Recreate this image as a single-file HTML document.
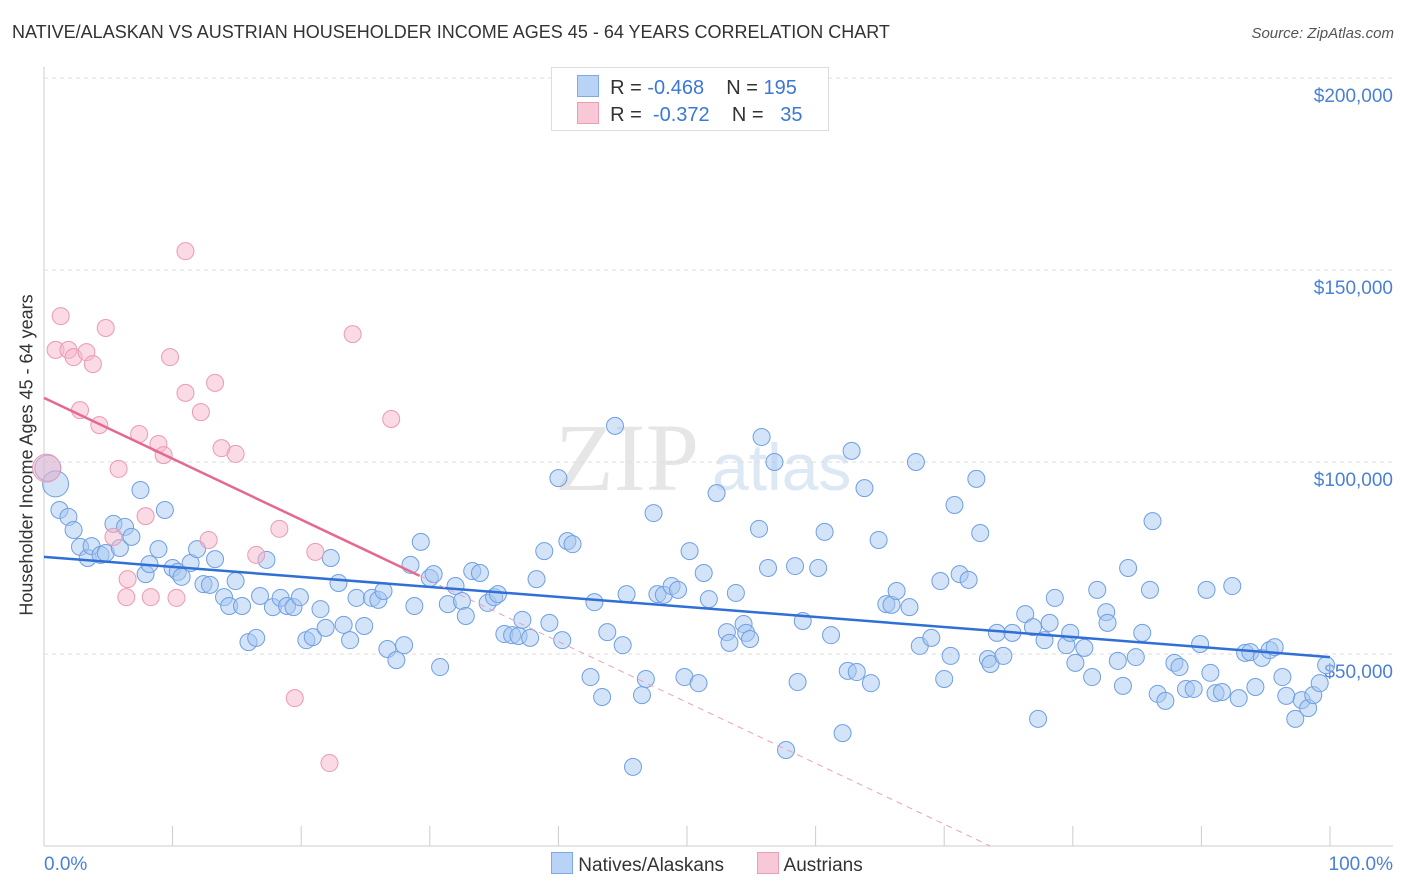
<!DOCTYPE html>
<html><head><meta charset="utf-8"><style>
body{margin:0;background:#fff;font-family:"Liberation Sans",sans-serif;}
#wrap{position:relative;width:1406px;height:892px;overflow:hidden;}
.t{position:absolute;white-space:nowrap;}
</style></head><body>
<div id="wrap">
<div class="t" style="left:12px;top:22px;font-size:18px;color:#333;">NATIVE/ALASKAN VS AUSTRIAN HOUSEHOLDER INCOME AGES 45 - 64 YEARS CORRELATION CHART</div>
<div class="t" style="right:12px;top:25px;font-size:15px;color:#555;font-style:italic;">Source: ZipAtlas.com</div>
<div class="t" style="left:27px;top:455px;font-size:18px;color:#333;transform:translate(-50%,-50%) rotate(-90deg);">Householder Income Ages 45 - 64 years</div>
<svg id="plot" width="1406" height="892" style="position:absolute;left:0;top:0"></svg>
<div style="position:absolute;left:551px;top:67px;width:276px;height:62px;border:1px solid #ddd;background:#fff;font-size:20px;color:#333;">
 <div style="position:absolute;left:25px;top:7px;"><span style="display:inline-block;width:20px;height:20px;background:#b8d3f5;border:1px solid #7fa9e6;vertical-align:-3px;"></span>&nbsp; R = <span style="color:#3a78d8">-0.468</span>&nbsp;&nbsp;&nbsp; N = <span style="color:#3a78d8">195</span></div>
 <div style="position:absolute;left:25px;top:34px;"><span style="display:inline-block;width:20px;height:20px;background:#f8c8d6;border:1px solid #eb9db5;vertical-align:-3px;"></span>&nbsp; R = &nbsp;<span style="color:#3a78d8">-0.372</span>&nbsp;&nbsp;&nbsp; N = &nbsp;&nbsp;<span style="color:#3a78d8">35</span></div>
</div>
<div style="position:absolute;left:551px;top:852px;font-size:19px;color:#333;">
 <span><span style="display:inline-block;width:20px;height:20px;background:#b8d3f5;border:1px solid #7fa9e6;vertical-align:-3px;"></span> Natives/Alaskans</span>
 <span style="margin-left:28px;"><span style="display:inline-block;width:20px;height:20px;background:#f8c8d6;border:1px solid #eb9db5;vertical-align:-3px;"></span> Austrians</span>
</div>
</div>
<script>
const yTicks=[50,100,150,200];
const yTickLabels=["$50,000","$100,000","$150,000","$200,000"];
const xTicks=[0,10,20,30,40,50,60,70,80,90,100];
const blueX=[0.3,0.9,1.2,1.9,2.3,2.8,3.4,3.7,4.4,4.8,5.4,5.9,6.3,6.8,7.5,7.9,8.2,8.9,9.4,10.0,10.4,10.7,11.4,11.9,12.4,12.9,13.3,14.0,14.4,14.9,15.4,15.9,16.5,16.8,17.3,17.8,18.4,18.9,19.4,19.9,20.4,20.9,21.5,21.9,22.3,22.9,23.3,23.8,24.3,24.9,25.5,26.0,26.4,26.7,27.4,28.0,28.5,28.8,29.3,30.0,30.3,30.8,31.4,32.0,32.5,32.8,33.3,33.9,34.5,35.0,35.3,35.8,36.4,36.9,37.2,37.8,38.3,38.9,39.3,40.0,40.3,40.7,41.1,42.5,42.8,43.4,43.8,44.4,45.0,45.3,45.8,46.5,46.8,47.4,47.7,48.2,48.8,49.3,49.8,50.2,50.9,51.3,51.7,52.3,53.1,53.3,53.8,54.4,54.6,54.9,55.8,55.6,56.3,56.8,57.7,58.4,58.6,59.0,60.2,60.7,61.2,62.1,62.5,62.8,63.2,63.8,64.3,64.9,65.5,65.9,66.3,67.3,67.8,68.1,69.0,69.7,70.0,70.5,70.8,71.2,71.9,72.5,72.8,73.4,73.6,74.1,74.6,75.3,76.3,76.9,77.3,77.8,78.2,78.6,79.5,79.8,80.2,80.9,81.5,81.9,82.6,82.7,83.5,83.9,84.3,84.9,85.4,86.0,86.2,86.6,87.2,87.9,88.3,88.8,89.4,89.9,90.4,90.7,91.1,91.6,92.4,92.9,93.4,93.8,94.2,94.7,95.3,95.7,96.3,96.6,97.3,97.8,98.3,98.7,99.2,99.7];
const blueY=[98.4,94.3,87.5,85.7,82.3,77.9,75.0,78.1,75.8,76.3,83.9,77.6,83.1,80.5,92.7,70.8,73.4,77.3,87.5,72.4,71.4,70.1,73.7,77.3,68.2,68.0,74.7,64.8,62.5,69.0,62.5,53.1,54.2,65.1,74.5,62.2,64.6,62.5,62.2,64.8,53.6,54.4,61.7,56.8,75.0,68.5,57.6,53.6,64.6,57.3,64.6,64.1,66.4,51.3,48.4,52.3,73.2,62.5,79.2,69.8,70.8,46.6,63.0,67.7,63.8,59.9,71.6,71.1,63.3,64.8,65.6,55.2,54.9,54.7,58.9,54.2,69.5,76.8,58.1,95.8,53.6,79.4,78.6,44.0,63.5,38.8,55.7,109.4,52.3,65.6,20.6,39.3,43.5,86.7,65.6,65.4,67.7,66.7,44.0,76.8,42.4,71.1,64.3,91.9,55.7,52.9,65.9,57.8,55.5,53.9,106.5,82.6,72.4,100.0,25.0,72.9,42.7,58.6,72.4,81.8,54.9,29.4,45.6,102.9,45.3,93.2,42.4,79.7,63.0,62.8,66.4,62.2,100.0,52.1,54.2,69.0,43.5,49.5,88.8,70.8,69.3,95.6,81.5,48.7,47.4,55.5,49.5,55.5,60.4,57.0,33.1,53.6,58.1,64.6,52.3,55.5,47.7,51.6,44.0,66.7,60.9,58.1,48.2,41.7,72.4,49.2,55.5,66.7,84.6,39.6,37.8,47.7,46.6,40.9,40.9,52.6,66.7,45.1,39.8,40.1,67.7,38.5,50.3,50.5,41.4,49.0,51.0,51.8,44.0,39.1,33.1,38.0,35.9,39.3,42.4,47.1];
const pinkX=[0.2,0.9,1.3,1.9,2.3,2.8,3.3,3.8,4.3,4.8,5.8,5.4,6.5,6.4,7.4,7.9,8.3,8.9,9.3,9.8,10.3,11.0,11.0,12.2,12.8,13.3,13.8,14.9,16.5,18.3,19.5,21.1,22.2,24.0,27.0];
const pinkY=[98.4,129.2,138.0,129.2,127.3,113.5,128.6,125.5,109.6,134.9,98.2,80.5,69.5,64.8,107.3,85.9,64.8,104.7,101.8,127.3,64.6,118.0,154.9,113.0,79.7,120.6,103.6,102.1,75.8,82.6,38.5,76.6,21.6,133.3,111.2];
const blueTrend=[75.3,49.2];
const pinkTrend=[116.7,-1.586];
const pinkSolidEnd=29.2;

const X0=44,X1=1330,Y0=846,PXK=3.84;
const sx=v=>X0+(X1-X0)*v/100;
const sy=v=>Y0-v*PXK;
const svg=document.getElementById('plot');
const NS='http://www.w3.org/2000/svg';
function mk(tag,at){const e=document.createElementNS(NS,tag);for(const k in at)e.setAttribute(k,at[k]);svg.appendChild(e);return e;}
// watermark
let wm=mk('text',{x:555,y:490,'font-size':96,'font-family':'Liberation Serif,serif',fill:'#e6e6e6'});wm.textContent='ZIP';


let wm2=mk('text',{x:712,y:490,'font-size':66,'font-family':'Liberation Sans,sans-serif',fill:'#dde8f5'});wm2.textContent='atlas';


yTicks.forEach((t,i)=>{
 const g=mk('line',{x1:44,x2:1393,y1:sy(t),y2:sy(t),stroke:'#ddd','stroke-dasharray':'4,4'});
 
 
 const l=mk('text',{x:1393,y:sy(t)+24,'text-anchor':'end','font-size':19,fill:'#4a80d8','font-family':'Liberation Sans,sans-serif'});
 l.textContent=yTickLabels[i];
 
 
});
const ax=mk('line',{x1:44,x2:44,y1:67,y2:846,stroke:'#ccc'});


const bx=mk('line',{x1:44,x2:1393,y1:846,y2:846,stroke:'#ccc'});


xTicks.forEach(t=>{
 const k=mk('line',{x1:sx(t),x2:sx(t),y1:826,y2:846,stroke:'#ccc'});
 
 
});
[['0.0%',44,'start'],['100.0%',1393,'end']].forEach(a=>{
 const l=mk('text',{x:a[1],y:870,'text-anchor':a[2],'font-size':19,fill:'#4a80d8','font-family':'Liberation Sans,sans-serif'});
 l.textContent=a[0];
 
 
});
blueX.forEach((x,i)=>{
 const r=(i<2)?13:8.5;
 const c=mk('circle',{cx:sx(x),cy:sy(blueY[i]),r:r,fill:'rgba(168,199,242,0.5)',stroke:'#6f9fe3','stroke-width':1});
 
 
});
pinkX.forEach((x,i)=>{
 const r=(i==0)?14:8.5;
 const c=mk('circle',{cx:sx(x),cy:sy(pinkY[i]),r:r,fill:'rgba(246,182,202,0.5)',stroke:'#eb9ab3','stroke-width':1});
 
 
});
const bt=mk('line',{x1:sx(0),y1:sy(blueTrend[0]),x2:sx(100),y2:sy(blueTrend[1]),stroke:'#2f6fd6','stroke-width':2.5});


const pf=x=>pinkTrend[0]+pinkTrend[1]*x;
const pt=mk('line',{x1:sx(0),y1:sy(pf(0)),x2:sx(pinkSolidEnd),y2:sy(pf(pinkSolidEnd)),stroke:'#e5698f','stroke-width':2.5});


const xe=-pinkTrend[0]/pinkTrend[1];
const pd=mk('line',{x1:sx(pinkSolidEnd),y1:sy(pf(pinkSolidEnd)),x2:sx(xe),y2:sy(0),stroke:'#eba0b8','stroke-width':1,'stroke-dasharray':'6,5'});


</script>
</body></html>
